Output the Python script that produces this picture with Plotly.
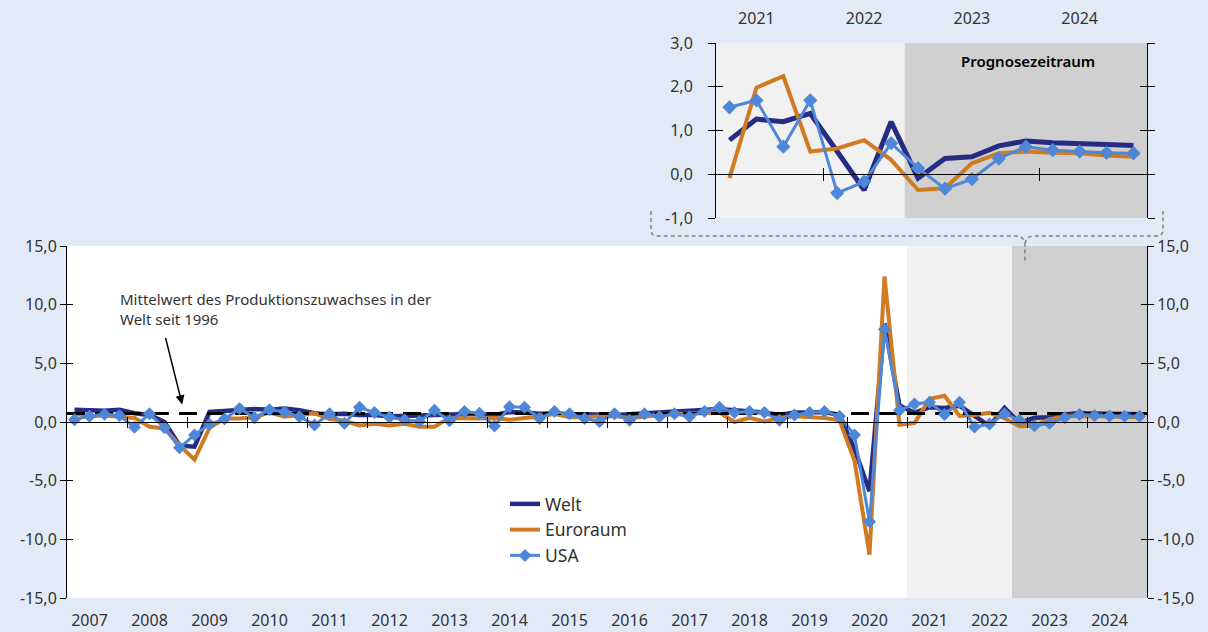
import plotly.graph_objects as go

# ---------------- data ----------------
years = list(range(2007, 2025))
year_labels = [str(y) for y in years]
quarters = [1, 2, 3, 4]

welt = [
    1.05, 1.0, 0.95, 1.05,      # 2007
    0.75, 0.6, 0.0, -2.0,       # 2008
    -2.1, 0.85, 0.95, 1.0,      # 2009
    1.1, 1.05, 1.15, 1.0,       # 2010
    0.75, 0.65, 0.7, 0.6,       # 2011
    0.6, 0.5, 0.5, 0.55,        # 2012
    0.6, 0.65, 0.7, 0.7,        # 2013
    0.6, 0.85, 0.8, 0.7,        # 2014
    0.75, 0.65, 0.65, 0.6,      # 2015
    0.6, 0.65, 0.75, 0.85,      # 2016
    0.9, 0.95, 1.05, 1.1,       # 2017
    1.0, 0.9, 0.8, 0.6,         # 2018
    0.8, 0.8, 0.85, 0.6,        # 2019
    -2.3, -5.9, 8.4, 1.4,       # 2020
    0.78, 1.26, 1.2, 1.39,      # 2021
    0.52, -0.36, 1.2, -0.09,    # 2022
    0.36, 0.40, 0.65, 0.76,     # 2023
    0.72, 0.71, 0.68, 0.66,     # 2024
]
euroraum = [
    0.7, 0.5, 0.55, 0.45,
    0.35, -0.4, -0.55, -2.0,
    -3.2, -0.5, 0.3, 0.3,
    0.4, 0.8, 0.45, 0.6,
    0.75, 0.25, 0.1, -0.3,
    -0.15, -0.3, -0.15, -0.4,
    -0.4, 0.35, 0.3, 0.3,
    0.35, 0.2, 0.35, 0.45,
    0.7, 0.4, 0.4, 0.5,
    0.5, 0.35, 0.45, 0.6,
    0.65, 0.7, 0.8, 0.8,
    0.0, 0.35, 0.05, 0.35,
    0.48, 0.4, 0.34, 0.15,
    -3.3, -11.3, 12.4, -0.23,
    -0.09, 1.98, 2.24, 0.52,
    0.59, 0.78, 0.33, -0.36,
    -0.32, 0.25, 0.48, 0.52,
    0.49, 0.48, 0.43, 0.40,
]
usa = [
    0.2, 0.5, 0.65, 0.55,
    -0.45, 0.7, -0.5, -2.2,
    -1.1, -0.2, 0.25, 1.15,
    0.37, 1.05, 0.85, 0.45,
    -0.25, 0.7, -0.1, 1.25,
    0.8, 0.4, 0.2, 0.05,
    1.0, 0.1, 0.9, 0.75,
    -0.35, 1.3, 1.25, 0.3,
    0.9, 0.7, 0.3, 0.05,
    0.7, 0.15, 0.7, 0.45,
    0.7, 0.45, 0.9, 1.25,
    0.8, 0.9, 0.8, 0.15,
    0.6, 0.8, 0.9, 0.5,
    -1.1, -8.5, 7.9, 1.0,
    1.53, 1.69, 0.63, 1.69,
    -0.43, -0.17, 0.71, 0.14,
    -0.33, -0.11, 0.36, 0.63,
    0.55, 0.52, 0.49, 0.48,
]
mittelwert_welt = 0.73

main_yticks = [-15, -10, -5, 0, 5, 10, 15]
main_ytick_labels = ["-15,0", "-10,0", "-5,0", "0,0", "5,0", "10,0", "15,0"]
inset_years = [2021, 2022, 2023, 2024]
inset_year_labels = ["2021", "2022", "2023", "2024"]
inset_yticks = [-1, 0, 1, 2, 3]
inset_ytick_labels = ["-1,0", "0,0", "1,0", "2,0", "3,0"]
inset_zero_ticks = [2022, 2024]

highlight_start = 2021.0
forecast_start = 2022.75
inset_first_index = 56  # 2021Q1

# ---------------- styling ----------------
C_WELT = "#262B84"
C_EURO = "#D07B22"
C_USA = "#4E87D8"
BG = "#E3EAF7"
LIGHT = "#F1F1F1"
DARK = "#D0D0D0"
TXT = "#333333"
FONT = "Noto Sans"

x = [y + (q - 0.5) / 4 for y in years for q in quarters]
x_in = x[inset_first_index:]

W, H = 1208, 632
ML, MR, MT, MB = 67, 61, 43, 34
PW, PH = W - ML - MR, H - MT - MB


def px(xp, yp):
    return (xp - ML) / PW, (H - MB - yp) / PH


main_top = (H - MB - 246) / PH
inset_bottom = (H - MB - 218) / PH
inset_left = (716 - ML) / PW
main_zero = main_top / 2
inset_zero = inset_bottom + (1 - inset_bottom) * 0.25

fig = go.Figure()

# main traces
fig.add_trace(go.Scatter(x=x, y=welt, name="Welt", mode="lines",
                         line=dict(color=C_WELT, width=4.5)))
fig.add_trace(go.Scatter(x=x, y=euroraum, name="Euroraum", mode="lines",
                         line=dict(color=C_EURO, width=4)))
fig.add_trace(go.Scatter(x=[2007, 2025], y=[mittelwert_welt, mittelwert_welt],
                         mode="lines", showlegend=False, hoverinfo="skip",
                         line=dict(color="black", width=3, dash="18px,10px")))
fig.add_trace(go.Scatter(x=x, y=usa, name="USA", mode="lines+markers",
                         line=dict(color=C_USA, width=3),
                         marker=dict(symbol="diamond", size=10, color=C_USA)))

# inset traces
fig.add_trace(go.Scatter(x=x_in, y=welt[inset_first_index:], mode="lines", showlegend=False,
                         line=dict(color=C_WELT, width=5), xaxis="x2", yaxis="y5"))
fig.add_trace(go.Scatter(x=x_in, y=euroraum[inset_first_index:], mode="lines", showlegend=False,
                         line=dict(color=C_EURO, width=4), xaxis="x2", yaxis="y5"))
fig.add_trace(go.Scatter(x=x_in, y=usa[inset_first_index:], mode="lines+markers", showlegend=False,
                         line=dict(color=C_USA, width=3),
                         marker=dict(symbol="diamond", size=11, color=C_USA),
                         xaxis="x2", yaxis="y5"))

# dummy traces so overlay axes render
for xa, ya in [("x", "y2"), ("x", "y3"), ("x", "y4"), ("x3", "y"), ("x4", "y"),
               ("x2", "y6"), ("x2", "y7"), ("x2", "y8"), ("x5", "y5"), ("x6", "y5")]:
    fig.add_trace(go.Scatter(x=[None], y=[None], xaxis=xa, yaxis=ya,
                             showlegend=False, hoverinfo="skip"))

tickfont = dict(family=FONT, size=16, color=TXT)
year_ticks = [y + 0.375 for y in years]
inset_year_ticks = [y + 0.375 for y in inset_years]
boundaries = years[1:]

common_y_main = dict(range=[-15, 15], tickvals=main_yticks, ticktext=main_ytick_labels,
                     showgrid=False, zeroline=False, tickfont=tickfont, fixedrange=True)
common_y_in = dict(range=[-1, 3], tickvals=inset_yticks, ticktext=inset_ytick_labels,
                   showgrid=False, zeroline=False, tickfont=tickfont)

fig.update_layout(
    width=W, height=H,
    autosize=False,
    margin=dict(l=ML, r=MR, t=MT, b=MB, pad=0, autoexpand=False),
    paper_bgcolor=BG, plot_bgcolor="white",
    separators=",.",
    font=dict(family=FONT, color=TXT),
    showlegend=True,
    legend=dict(x=px(505, 0)[0], y=px(0, 486)[1], xanchor="left", yanchor="top",
                bgcolor="rgba(0,0,0,0)", font=dict(family=FONT, size=17.5, color=TXT),
                tracegroupgap=0, itemwidth=30),
    xaxis=dict(domain=[0, 1], anchor="y", range=[2007, 2025], tickvals=year_ticks,
               ticktext=year_labels, ticks="outside", ticklen=8,
               tickcolor="rgba(0,0,0,0)", showline=False, showgrid=False,
               zeroline=False, tickfont=tickfont),
    xaxis3=dict(overlaying="x", anchor="free", position=main_zero, side="bottom",
                range=[2007, 2025], tickvals=boundaries, ticks="outside", ticklen=5,
                tickcolor="black", showticklabels=False, showline=True,
                linecolor="black", linewidth=1, showgrid=False, zeroline=False),
    xaxis4=dict(overlaying="x", anchor="free", position=main_zero, side="bottom",
                range=[2007, 2025], tickvals=boundaries, ticks="inside", ticklen=5,
                tickcolor="black", showticklabels=False, showline=False,
                showgrid=False, zeroline=False),
    yaxis=dict(domain=[0, main_top], anchor="x", side="left", ticks="outside",
               ticklen=6, tickcolor="black", showline=True, linecolor="black",
               linewidth=1, **common_y_main),
    yaxis2=dict(overlaying="y", anchor="x", side="right", ticks="outside",
                ticklen=6, tickcolor="black", showline=True, linecolor="black",
                linewidth=1, **common_y_main),
    yaxis3=dict(overlaying="y", anchor="x", side="left", ticks="inside",
                ticklen=6, tickcolor="black", showticklabels=False, showline=False,
                range=[-15, 15], tickvals=main_yticks, showgrid=False, zeroline=False),
    yaxis4=dict(overlaying="y", anchor="x", side="right", ticks="inside",
                ticklen=6, tickcolor="black", showticklabels=False, showline=False,
                range=[-15, 15], tickvals=main_yticks, showgrid=False, zeroline=False),
    # inset
    xaxis2=dict(domain=[inset_left, 1], anchor="y5", side="top", range=[2021, 2025],
                tickvals=inset_year_ticks, ticktext=inset_year_labels, ticks="outside",
                ticklen=12, tickcolor="rgba(0,0,0,0)", showline=False, showgrid=False,
                zeroline=False, tickfont=tickfont),
    xaxis5=dict(overlaying="x2", anchor="free", position=inset_zero, side="bottom",
                range=[2021, 2025], tickvals=inset_zero_ticks, ticks="outside", ticklen=6,
                tickcolor="black", showticklabels=False, showline=True,
                linecolor="black", linewidth=1, showgrid=False, zeroline=False),
    xaxis6=dict(overlaying="x2", anchor="free", position=inset_zero, side="bottom",
                range=[2021, 2025], tickvals=inset_zero_ticks, ticks="inside", ticklen=6,
                tickcolor="black", showticklabels=False, showline=False,
                showgrid=False, zeroline=False),
    yaxis5=dict(domain=[inset_bottom, 1], anchor="x2", side="left", ticks="outside",
                ticklen=7, tickcolor="black", showline=True, linecolor="black",
                linewidth=1, ticklabelstandoff=12, **common_y_in),
    yaxis6=dict(overlaying="y5", anchor="x2", side="right", ticks="outside",
                ticklen=7, tickcolor="black", showline=True, linecolor="black",
                linewidth=1, showticklabels=False, range=[-1, 3],
                tickvals=inset_yticks, showgrid=False, zeroline=False),
    yaxis7=dict(overlaying="y5", anchor="x2", side="left", ticks="inside",
                ticklen=7, tickcolor="black", showticklabels=False, showline=False,
                range=[-1, 3], tickvals=inset_yticks, showgrid=False, zeroline=False),
    yaxis8=dict(overlaying="y5", anchor="x2", side="right", ticks="inside",
                ticklen=7, tickcolor="black", showticklabels=False, showline=False,
                range=[-1, 3], tickvals=inset_yticks, showgrid=False, zeroline=False),
)

# shaded periods
fig.add_shape(type="rect", xref="x", yref="y domain", x0=highlight_start, x1=forecast_start,
              y0=0, y1=1, fillcolor=LIGHT, line_width=0, layer="below")
fig.add_shape(type="rect", xref="x", yref="y domain", x0=forecast_start, x1=2025,
              y0=0, y1=1, fillcolor=DARK, line_width=0, layer="below")
fig.add_shape(type="rect", xref="x2", yref="y5 domain", x0=highlight_start, x1=forecast_start,
              y0=0, y1=1, fillcolor=LIGHT, line_width=0, layer="below")
fig.add_shape(type="rect", xref="x2", yref="y5 domain", x0=forecast_start, x1=2025,
              y0=0, y1=1, fillcolor=DARK, line_width=0, layer="below")

# dashed brace connecting inset and main chart
pts = {
    "a": px(651, 211), "b": px(651, 230), "c": px(651, 236), "d": px(658, 236),
    "e": px(1016, 236), "f": px(1024, 236), "g": px(1025, 244), "h": px(1025, 262),
    "i": px(1026, 236), "j": px(1034, 236), "k": px(1156, 236), "l": px(1163, 236),
    "m": px(1163, 230), "n": px(1163, 211),
}
def P(k):
    return f"{pts[k][0]:.5f},{pts[k][1]:.5f}"
path = (f"M{P('a')} L{P('b')} Q{P('c')} {P('d')} L{P('e')} Q{P('f')} {P('g')} L{P('h')} "
        f"M{P('g')} Q{P('i')} {P('j')} L{P('k')} Q{P('l')} {P('m')} L{P('n')}")
fig.add_shape(type="path", xref="paper", yref="paper", path=path,
              line=dict(color="#808080", width=1.5, dash="4px,3px"), layer="above")

# annotations
fig.add_annotation(xref="x2 domain", yref="y5 domain", x=0.725, y=0.895,
                   xanchor="center", yanchor="middle",
                   text="Prognosezeitraum", showarrow=False,
                   font=dict(family=FONT, size=15, color="black", weight=600))
fig.add_annotation(xref="paper", yref="paper", x=px(118, 0)[0], y=px(0, 287)[1],
                   xanchor="left", yanchor="top", align="left", showarrow=False,
                   text="Mittelwert des Produktionszuwachses in der<br>Welt seit 1996",
                   font=dict(family=FONT, size=15, color=TXT))
fig.add_annotation(xref="x", yref="y", x=2008.92, y=1.5, ax=-17, ay=-68, text="",
                   showarrow=True, arrowhead=2, arrowsize=1.2, arrowwidth=1.5,
                   arrowcolor="black")

fig.write_html("out.html", config={"displayModeBar": False},
               post_script="document.body.style.margin='0';document.body.style.overflow='hidden';")
